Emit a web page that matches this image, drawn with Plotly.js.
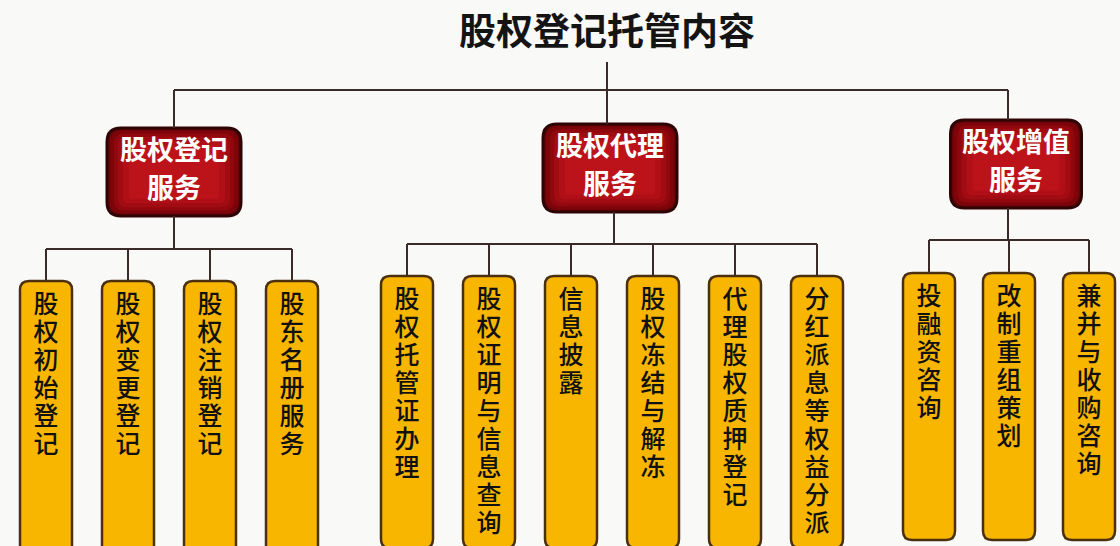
<!DOCTYPE html>
<html>
<head>
<meta charset="utf-8">
<script src="https://cdn.plot.ly/plotly-3.0.1.min.js"></script>
<style>html,body{margin:0;padding:0;background:#f9f9f7;}#chart{width:1120px;height:546px;}</style>
</head>
<body>
<div id="chart"></div>
<script>
// ---- data ----
const chartTitle = '股权登记托管内容';
const groupNames = ['股权登记服务', '股权代理服务', '股权增值服务'];
const group1Items = ['股权初始登记', '股权变更登记', '股权注销登记', '股东名册服务'];
const group2Items = ['股权托管证办理', '股权证明与信息查询', '信息披露', '股权冻结与解冻', '代理股权质押登记', '分红派息等权益分派'];
const group3Items = ['投融资咨询', '改制重组策划', '兼并与收购咨询'];
const groupItems = [group1Items, group2Items, group3Items];

// ---- layout constants (pixel space) ----
const FONT = '"Noto Sans CJK SC", "Noto Sans", sans-serif';
const LINE = '#3a2a28';
const redBoxes = [
  {cx: 174, top: 128, w: 134, h: 88, drop: 174},
  {cx: 610, top: 124, w: 134, h: 88, drop: 614},
  {cx: 1016, top: 120, w: 131, h: 88, drop: 1008}
];
const redBands = [
  {inset: 0, color: '#6a0307'},
  {inset: 3, color: '#7d050a'},
  {inset: 7, color: '#90080e'},
  {inset: 11, color: '#a10b12'},
  {inset: 16, color: '#b00f17'},
  {inset: 22, color: '#bc131b'}
];
const topBusY = 90;
const stemX = 607;
const busY = [249, 244, 240];
const childStart = [46, 407, 929];
const childPitch = [82, 82, 80];
const childTop = [281, 276, 273];
const childBottom = [575, 548, 540];
const childW = 52;
const itemFont = 25;
const charPitch = 28;

function rr(x0, y0, x1, y1, r) {
  return `M${x0+r},${y0} L${x1-r},${y0} Q${x1},${y0} ${x1},${y0+r} L${x1},${y1-r} Q${x1},${y1} ${x1-r},${y1} L${x0+r},${y1} Q${x0},${y1} ${x0},${y1-r} L${x0},${y0+r} Q${x0},${y0} ${x0+r},${y0} Z`;
}

const shapes = [];
const traces = [];
const lineX = [], lineY = [];
function seg(x0, y0, x1, y1) { lineX.push(x0, x1, null); lineY.push(y0, y1, null); }

// title stem and top bus
seg(stemX, 62, stemX, redBoxes[1].top);
seg(redBoxes[0].drop, topBusY, redBoxes[2].drop, topBusY);
seg(redBoxes[0].drop, topBusY, redBoxes[0].drop, redBoxes[0].top);
seg(redBoxes[2].drop, topBusY, redBoxes[2].drop, redBoxes[2].top);

const redTextX = [], redTextY = [], redText = [];
const yTextX = [], yTextY = [], yText = [];

groupNames.forEach((name, g) => {
  const b = redBoxes[g];
  const x0 = b.cx - b.w / 2, x1 = b.cx + b.w / 2, y0 = b.top, y1 = b.top + b.h;
  redBands.forEach((band, k) => {
    const d = band.inset;
    shapes.push({type: 'path', xref: 'x', yref: 'y',
      path: rr(x0 + d, y0 + d * 0.8, x1 - d, y1 - d * 0.8, Math.max(14 - d * 0.5, 4)),
      fillcolor: band.color,
      line: k === 0 ? {color: '#2e0404', width: 3} : {width: 0},
      layer: 'below'});
  });
  const cy = b.top + b.h / 2;
  redTextX.push(b.cx, b.cx); redTextY.push(cy - 19, cy + 19);
  redText.push(name.slice(0, 4), name.slice(4));
  // drop line to bus
  seg(b.drop, y1, b.drop, busY[g]);
  const items = groupItems[g];
  const xs = items.map((_, i) => childStart[g] + i * childPitch[g]);
  seg(xs[0], busY[g], xs[xs.length - 1], busY[g]);
  items.forEach((label, i) => {
    const cx = xs[i];
    seg(cx, busY[g], cx, childTop[g]);
    shapes.push({type: 'path', xref: 'x', yref: 'y',
      path: rr(cx - childW / 2, childTop[g], cx + childW / 2, childBottom[g], 9),
      fillcolor: '#f8b600', line: {color: '#4a3010', width: 2.5}, layer: 'below'});
    Array.from(label).forEach((ch, k) => {
      yTextX.push(cx); yTextY.push(childTop[g] + 26 + k * charPitch); yText.push(ch);
    });
  });
});

traces.push({type: 'scatter', mode: 'lines', x: lineX, y: lineY, line: {color: LINE, width: 2}, hoverinfo: 'skip'});
traces.push({type: 'scatter', mode: 'text', x: redTextX, y: redTextY, text: redText,
  textfont: {family: FONT, size: 27, color: '#ffffff', weight: 700}, hoverinfo: 'skip'});
traces.push({type: 'scatter', mode: 'text', x: yTextX, y: yTextY, text: yText,
  textfont: {family: FONT, size: itemFont, color: '#111111', weight: 500}, hoverinfo: 'skip'});

const layout = {
  width: 1120, height: 546,
  margin: {l: 0, r: 0, t: 0, b: 0},
  paper_bgcolor: '#f9f9f7', plot_bgcolor: '#f9f9f7',
  showlegend: false,
  title: {text: chartTitle, x: 607 / 1120, xanchor: 'center', y: 1 - 32 / 546, yanchor: 'middle',
    font: {family: FONT, size: 37, color: '#141414', weight: 700}},
  xaxis: {range: [0, 1120], visible: false, fixedrange: true},
  yaxis: {range: [546, 0], visible: false, fixedrange: true},
  shapes: shapes
};
Plotly.newPlot('chart', traces, layout, {displayModeBar: false, staticPlot: true});
</script>
</body>
</html>
